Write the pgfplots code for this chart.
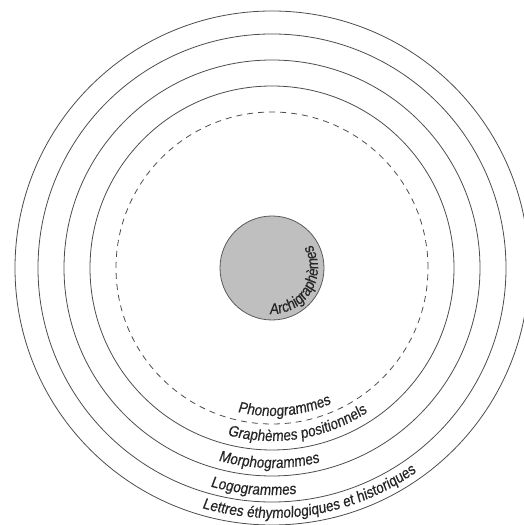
\documentclass[border=0pt]{standalone}
\usepackage{pgfplots}
\pgfplotsset{compat=1.18}
\usepackage{fontspec}
\setmainfont{Liberation Sans}
\newfontfamily\lab{Liberation Sans}[FakeStretch=0.88,FakeSlant=0.1,FakeBold=0.4]
\usetikzlibrary{decorations.text}

% ring label: #1 baseline radius, #2 start angle, #3 text
\newcommand\ringlabel[3]{%
  \path[decorate,decoration={text along path,text align=left,
      text={|\lab\fontsize{15.5}{15.5}\selectfont\color{black!85}|#3}}]
    (axis cs:272,257) ++(#2:#1bp) arc[start angle=#2,end angle=#2+150,radius=#1bp];}

\begin{document}
\begin{tikzpicture}
\begin{axis}[
    width=524bp, height=525bp, scale only axis,
    xmin=0, xmax=524, ymin=0, ymax=525,
    hide axis, clip=true,
  ]
  % rings, centre (272,257), radii
  \draw[black!70,line width=0.8bp] (axis cs:272,257) circle[radius=257];
  \draw[black!70,line width=0.8bp] (axis cs:272,257) circle[radius=234];
  \draw[black!70,line width=0.8bp] (axis cs:272,257) circle[radius=208];
  \draw[black!70,line width=0.8bp] (axis cs:272,257) circle[radius=182];
  \draw[black!70,line width=0.8bp,dash pattern=on 6bp off 5bp] (axis cs:272,257) circle[radius=156];
  \draw[black!65,fill=black!25,line width=0.8bp] (axis cs:272,257) circle[radius=52];

  \ringlabel{148}{256.5}{Phonogrammes}
  \ringlabel{173}{255}{Graphèmes positionnels}
  \ringlabel{200}{254.4}{Morphogrammes}
  \ringlabel{227}{254.2}{Logogrammes}
  \ringlabel{250}{253.7}{Lettres éthymologiques et historiques}
  \ringlabel{46}{267}{Archigraphèmes}
\end{axis}
\pgfresetboundingbox
\useasboundingbox (current axis.south west) rectangle (current axis.north east);
\end{tikzpicture}
\end{document}
